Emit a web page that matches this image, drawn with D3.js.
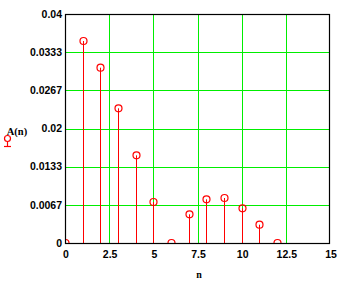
<!DOCTYPE html>
<html><head><meta charset="utf-8">
<script src="https://cdn.jsdelivr.net/npm/d3@7"></script>
<style>body{margin:0;background:#fff}svg{display:block}text{font-family:"Liberation Sans",Arial,sans-serif;font-weight:bold;fill:#000}</style>
</head><body><svg id="c" width="350" height="283"></svg>
<script>
const nValues = [0,1,2,3,4,5,6,7,8,9,10,11,12];
const aValues = [0,0.03528,0.03062,0.02353,0.01531,0.00716,0,0.00501,0.00763,0.00786,0.00606,0.0032,0];
const xTicks = [0,2.5,5,7.5,10,12.5,15];
const xTickLabels = ["0","2.5","5","7.5","10","12.5","15"];
const yTicks = [0,0.04/6,0.08/6,0.02,0.16/6,0.2/6,0.04];
const yTickLabels = ["0","0.0067","0.0133","0.02","0.0267","0.0333","0.04"];

const svg = d3.select("#c");
const L=65,R=330,T=14,B=243;
const x = d3.scaleLinear().domain([0,15]).range([L,R]);
const y = d3.scaleLinear().domain([0,0.04]).range([B,T]);
const green="#00ee00", red="#ff0000";

svg.append("clipPath").attr("id","clip").append("rect").attr("x",L).attr("y",T).attr("width",R-L).attr("height",B-T);

// grid
svg.append("g").selectAll("line").data(xTicks.slice(1,-1)).join("line")
  .attr("x1",d=>Math.round(x(d))+0.5).attr("x2",d=>Math.round(x(d))+0.5).attr("y1",T).attr("y2",B)
  .attr("stroke",green).attr("stroke-width",1);
svg.append("g").selectAll("line").data(yTicks.slice(1,-1)).join("line")
  .attr("y1",d=>Math.round(y(d))+0.5).attr("y2",d=>Math.round(y(d))+0.5).attr("x1",L).attr("x2",R)
  .attr("stroke",green).attr("stroke-width",1);

// stems + circles
const g = svg.append("g").attr("clip-path","url(#clip)");
g.selectAll("line").data(nValues).join("line")
  .attr("x1",d=>Math.round(x(d))+0.5).attr("x2",d=>Math.round(x(d))+0.5)
  .attr("y1",B).attr("y2",(d,i)=>y(aValues[i]))
  .attr("stroke",red).attr("stroke-width",1);
g.selectAll("circle").data(nValues).join("circle")
  .attr("cx",d=>Math.round(x(d))+0.5).attr("cy",(d,i)=>y(aValues[i]))
  .attr("r",3.5).attr("fill","none").attr("stroke",red).attr("stroke-width",1.2);

// frame
svg.append("rect").attr("x",L+0.5).attr("y",T+0.5).attr("width",R-L-1).attr("height",B-T)
  .attr("fill","none").attr("stroke","#000").attr("stroke-width",1.2);

// tick labels
svg.append("g").selectAll("text").data(yTicks).join("text")
  .attr("x",L-3).attr("y",d=>y(d)+1).attr("text-anchor","end").attr("dominant-baseline","middle")
  .attr("font-size",10.5).text((d,i)=>yTickLabels[i]);
svg.append("g").selectAll("text").data(xTicks).join("text")
  .attr("x",d=>x(d)+1).attr("y",258).attr("text-anchor","middle")
  .attr("font-size",10.5).text((d,i)=>xTickLabels[i]);

// axis titles
svg.append("text").attr("x",199).attr("y",278).attr("text-anchor","middle").attr("font-size",10)
  .style("font-family","'Liberation Serif',serif").text("n");
svg.append("text").attr("x",17).attr("y",135).attr("text-anchor","middle").attr("font-size",10.5)
  .style("font-family","'Liberation Serif',serif").text("A(n)");
// legend symbol
const lg = svg.append("g").attr("stroke",red).attr("fill","none").attr("stroke-width",1.2);
lg.append("circle").attr("cx",7.5).attr("cy",138.5).attr("r",3);
lg.append("line").attr("x1",7.5).attr("x2",7.5).attr("y1",141.5).attr("y2",146);
lg.append("line").attr("x1",4).attr("x2",11).attr("y1",146.5).attr("y2",146.5);
</script></body></html>
